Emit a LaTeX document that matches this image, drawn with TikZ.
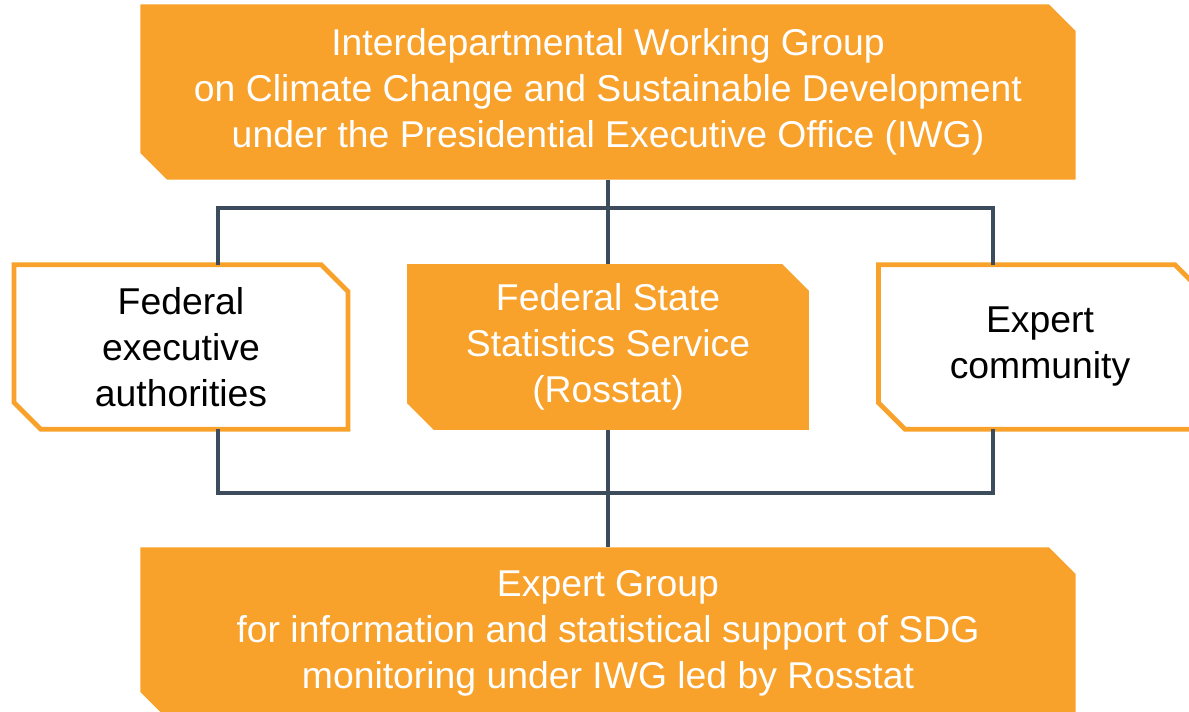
\documentclass[tikz,border=0pt]{standalone}
\usepackage{fontspec}
\setmainfont{Liberation Sans}
\usetikzlibrary{backgrounds}
\definecolor{boxorange}{RGB}{248,161,43}
\definecolor{lineslate}{RGB}{60,76,92}
\newcommand{\cut}{20pt}
\begin{document}
\begin{tikzpicture}[
			x=0.75pt, y=0.75pt,
			box/.style={rectangle, inner sep=0pt, align=center, font=\fontsize{28}{34.5}\selectfont},
			solidbox/.style={box, text=white},
			openbox/.style={box, text=black},
			solidfill/.style={fill=boxorange},
			openline/.style={draw=boxorange, line width=3.6pt, fill=white},
			link/.style={draw=lineslate, line width=2.4pt}
			]
			\useasboundingbox (0,0) rectangle (1189,711);
			\node[solidbox, minimum width=701pt, minimum height=131pt] (iwg) at (608,619)
				{Interdepartmental Working Group\\on Climate Change and Sustainable Development\\under the Presidential Executive Office (IWG)};
			\node[openbox, minimum width=250pt, minimum height=123pt] (fea) at (181,364)
				{Federal\\executive\\authorities};
			\node[solidbox, minimum width=301pt, minimum height=124pt] (rosstat) at (608,364)
				{Federal State\\Statistics Service\\(Rosstat)};
			\node[openbox, minimum width=242pt, minimum height=123pt] (expert) at (1040,364)
				{Expert\\community};
			\node[solidbox, minimum width=701pt, minimum height=128pt] (eg) at (608,78)
				{Expert Group\\for information and statistical support of SDG\\monitoring under IWG led by Rosstat};
			% cut corner boxes behind the texts
			\begin{scope}[on background layer]
				\foreach \n/\st in {iwg/solidfill, fea/openline, rosstat/solidfill, expert/openline, eg/solidfill}
					\path[\st] (\n.north west) -- ([xshift=-\cut]\n.north east) -- ([yshift=-\cut]\n.north east)
						-- (\n.south east) -- ([xshift=\cut]\n.south west) -- ([yshift=\cut]\n.south west) -- cycle;
			\end{scope}
			% connectors
			\coordinate (upl) at (218,503);
			\coordinate (upr) at (993,503);
			\coordinate (lowl) at (218,218);
			\coordinate (lowr) at (993,218);
			\begin{scope}[on background layer]
				\draw[link] (upl |- fea.north) -- (upl) -- (upr) -- (upr |- expert.north);
				\draw[link] (iwg.south) -- (rosstat.north);
				\draw[link] (lowl |- fea.south) -- (lowl) -- (lowr) -- (lowr |- expert.south);
				\draw[link] (rosstat.south) -- (eg.north);
			\end{scope}
		\end{tikzpicture}
\end{document}
